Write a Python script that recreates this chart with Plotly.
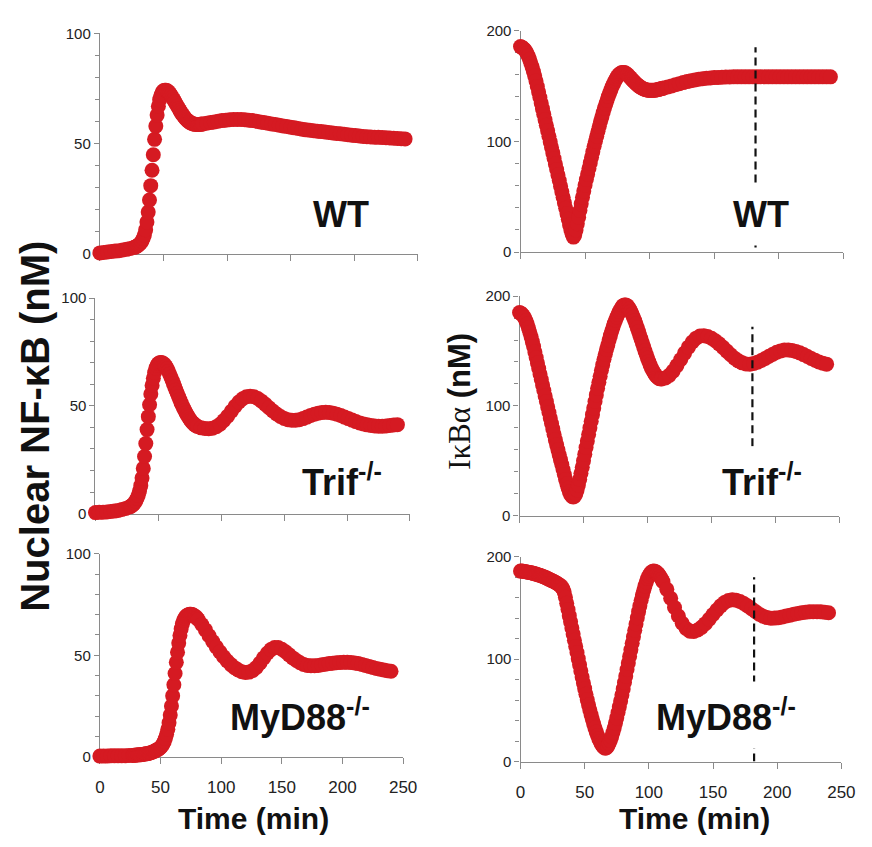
import plotly.graph_objects as go

W, H = 872, 847

# ---------------- data ----------------
# time grids (min)
t_left = list(range(0, 28, 3)) + list(range(28, 81)) + list(range(81, 241, 3))
t_right = list(range(0, 111)) + list(range(111, 241, 3))

# Nuclear NF-kB (nM)
nfkb_wt = [
    0.5, 0.7, 0.9, 1.1, 1.3, 1.5, 1.8, 2.1, 2.5, 3.0,
    3.2, 3.5, 3.9, 4.4, 5.0, 5.8, 7.0, 8.6, 11, 14.5,
    19, 24.5, 31, 38, 45, 52, 58, 63, 67, 70,
    72, 73.3, 74, 74.3, 74.3, 74, 73.5, 72.8, 72, 71,
    70, 69, 68, 67, 66, 65, 64, 63.2, 62.4, 61.7,
    61, 60.5, 60, 59.6, 59.3, 59.1, 58.9, 58.8, 58.7, 58.7,
    58.7, 58.8, 58.9,
    59, 59.3, 59.6, 59.9, 60.2, 60.5, 60.7, 60.9, 61, 61,
    61, 60.9, 60.7, 60.5, 60.2, 59.9, 59.6, 59.3, 59, 58.7,
    58.4, 58.1, 57.8, 57.5, 57.2, 56.9, 56.6, 56.3, 56.1, 55.9,
    55.7, 55.5, 55.3, 55.1, 54.9, 54.7, 54.5, 54.3, 54.1, 53.9,
    53.7, 53.5, 53.3, 53.2, 53.1, 53, 52.9, 52.8, 52.7, 52.6,
    52.5, 52.4, 52.3, 52.2,
]
nfkb_trif = [
    0.5, 0.6, 0.7, 0.8, 1.0, 1.2, 1.5, 1.9, 2.4, 3.1,
    3.4, 3.8, 4.3, 5.0, 5.9, 7.0, 8.5, 10.5, 13, 16.5,
    21, 26.5, 32.5, 39, 45, 50.5, 55.5, 59.5, 62.8, 65.5,
    67.5, 68.8, 69.6, 70, 70.1, 70, 69.6, 69, 68.2, 67.2,
    66, 64.7, 63.3, 61.8, 60.3, 58.8, 57.3, 55.8, 54.3, 52.9,
    51.5, 50.2, 49, 47.8, 46.7, 45.7, 44.7, 43.8, 43, 42.3,
    41.7, 41.2, 40.8,
    40.4, 39.8, 39.5, 39.4, 39.6, 40.3, 41.5, 43.2, 45.2, 47.5,
    49.8, 51.8, 53.3, 54.2, 54.5, 54.2, 53.4, 52.2, 50.7, 49.1,
    47.6, 46.2, 45.1, 44.2, 43.6, 43.3, 43.3, 43.6, 44.1, 44.8,
    45.5, 46.1, 46.6, 46.9, 47, 46.9, 46.6, 46.1, 45.5, 44.8,
    44.1, 43.4, 42.7, 42.1, 41.6, 41.2, 40.9, 40.7, 40.6, 40.6,
    40.7, 40.9, 41.1, 41.3,
]
nfkb_myd88 = [
    0.3, 0.3, 0.3, 0.4, 0.4, 0.4, 0.5, 0.5, 0.6, 0.6,
    0.7, 0.7, 0.8, 0.8, 0.9, 1.0, 1.0, 1.1, 1.2, 1.3,
    1.4, 1.5, 1.6, 1.8, 2.0, 2.2, 2.4, 2.7, 3.0, 3.4,
    3.6, 4.0, 4.6, 5.3, 6.2, 7.4, 9.0, 11, 13.5, 16.7,
    20.5, 25, 30, 35.5, 41, 46.5, 51.5, 56, 59.8, 63,
    65.5, 67.2, 68.4, 69.2, 69.7, 70, 70.2, 70.2, 70.1, 69.8,
    69.4, 68.9, 68.3,
    67.6, 65.2, 62.5, 59.6, 56.8, 54.1, 51.6, 49.3, 47.2, 45.4,
    43.9, 42.7, 41.9, 41.5, 41.7, 42.5, 44, 46.2, 48.7, 51,
    52.8, 53.8, 53.8, 53, 51.7, 50.2, 48.7, 47.4, 46.3, 45.5,
    45, 44.8, 44.8, 45, 45.3, 45.6, 45.9, 46.1, 46.3, 46.4,
    46.5, 46.5, 46.4, 46.2, 45.9, 45.5, 45, 44.5, 44, 43.5,
    43.1, 42.7, 42.4, 42.1,
]

# IkBa (nM)
ikba_wt = [
    185.5, 185, 184, 183, 181.5, 179.5, 177, 174, 170.5, 167,
    163, 159, 154.5, 149.5, 144.5, 139.5, 134.5, 129.5, 124.5, 119.5,
    114.5, 109.5, 104.5, 99.5, 94.5, 89.5, 84.5, 79.5, 74.5, 69.5,
    64.5, 59.5, 54.5, 49.5, 44.5, 39.5, 34.5, 29.5, 24.5, 20,
    16, 13.5, 15.5, 20, 25.5, 31.5, 37.5, 43.5, 49.5, 55,
    60.5, 65.5, 70.5, 75.5, 80.5, 85.5, 90.5, 95.5, 100, 104.5,
    109, 113.5, 118, 122, 126, 130, 133.5, 137, 140.5, 143.5,
    146.5, 149.5, 152, 154.5, 156.5, 158.5, 160, 161, 161.8, 162.2,
    162.2, 161.8, 161, 160, 158.8, 157.5, 156.2, 155, 153.8, 152.6,
    151.5, 150.5, 149.6, 148.8, 148.1, 147.5, 147, 146.6, 146.3, 146.1,
    146, 146, 146, 146.1, 146.2, 146.4, 146.6, 146.9, 147.2, 147.5, 147.8,
    148.1, 149, 150, 151, 152, 153, 153.9, 154.7, 155.4, 156,
    156.5, 156.9, 157.2, 157.5, 157.7, 157.9, 158, 158.1, 158.2, 158.2,
    158.2, 158.2, 158.2, 158.2, 158.2, 158.2, 158.2, 158.2, 158.2, 158.2,
    158.2, 158.2, 158.2, 158.2, 158.2, 158.2, 158.2, 158.2, 158.2, 158.2,
    158.2, 158.2, 158.2, 158.2,
]
ikba_trif = [
    185, 184.5, 183.5, 182, 180, 177.5, 174.5, 171, 167, 163,
    158.5, 154, 149, 144, 139, 134, 129, 124, 119, 114,
    109, 104, 99, 94, 89, 84, 79, 74, 69, 64.5,
    60, 55.5, 51, 46.5, 42, 37.5, 33, 29, 25, 21.5,
    19, 17.5, 17, 17.8, 20, 23.5, 28, 33, 38.5, 44,
    50, 56, 62, 68, 74, 80, 86, 92, 98, 104,
    110, 116, 121.5, 127, 132.5, 137.5, 142.5, 147, 151.5, 155.5,
    160, 164, 168, 171.5, 175, 178, 181, 183.5, 186, 188,
    190, 191.3, 192, 192, 191.3, 190, 188.2, 186, 183.5, 180.8,
    177.8, 174.6, 171.2, 167.7, 164.2, 160.8, 157.3, 153.8, 150.2, 146.8,
    143.5, 140.4, 137.5, 134.8, 132.4, 130.3, 128.5, 127, 125.8, 125, 124.6,
    124.5, 125.4, 127.8, 131.7, 136.7, 142.3, 148.1, 153.5, 158.2, 161.7,
    163.6, 163.9, 163.2, 161.6, 159.4, 156.5, 153.3, 149.9, 146.6, 143.5,
    141, 139.2, 138.2, 138, 138.6, 139.7, 141.3, 143.2, 145.2, 147.1,
    148.8, 150.1, 150.9, 151, 150.5, 149.6, 148.3, 146.7, 145, 143.2,
    141.5, 140, 138.8, 138,
]
ikba_myd88 = [
    186, 186, 185.8, 185.6, 185.4, 185.2, 185, 184.7, 184.4, 184.1,
    183.8, 183.5, 183.1, 182.7, 182.3, 181.9, 181.5, 181, 180.5, 180,
    179.4, 178.8, 178.2, 177.6, 177, 176.4, 175.8, 175.1, 174.4, 173.6,
    172.8, 171.8, 170.6, 168.8, 165.5, 160.5, 154.5, 148.5, 142.5, 136.5,
    130.5, 124.5, 118.5, 112.5, 106.5, 100.5, 94.5, 88.5, 82.5, 76.8,
    71.2, 65.7, 60.4, 55.3, 50.4, 45.7, 41.2, 36.9, 32.8, 29,
    25.5, 22.3, 19.5, 17.1, 15.2, 13.8, 13, 13.6, 15.2, 17.6,
    20.6, 24.2, 28.3, 32.8, 37.6, 42.7, 48, 53.5, 59.2, 65,
    71, 77.2, 83.5, 89.9, 96.3, 102.7, 109.1, 115.5, 121.9, 128.2,
    134.4, 140.5, 146.4, 152.1, 157.5, 162.6, 167.3, 171.6, 175.4, 178.7,
    181.4, 183.5, 185, 185.8, 186, 185.7, 184.9, 183.7, 182.1, 180.2, 178,
    175.7, 168.2, 159.5, 150.5, 142.1, 135.1, 130, 127.3, 127.1, 128.5,
    131.1, 134.7, 139, 143.6, 148.1, 152.1, 155.3, 157.3, 158, 157.6,
    156.3, 154.4, 152, 149.3, 146.5, 144, 142, 140.6, 140, 140.1,
    140.5, 141.2, 142.1, 143, 143.9, 144.7, 145.4, 145.9, 146.2, 146.4,
    146.4, 146.2, 145.8, 145.3,
]

genotypes = ["WT", "Trif<sup>-/-</sup>", "MyD88<sup>-/-</sup>"]
x_ticks = [0, 50, 100, 150, 200, 250]
left_ticks = [0, 50, 100]
right_ticks = [0, 100, 200]
dash_time = 182
dash_top = [185, 172, 180]
dash_bottom = [4, 4, 0]

# ---------------- layout helpers ----------------
def px_x(p):
    return p / W

def px_y(p):
    return 1 - p / H

RED = "#d51a22"
FONT = "Liberation Sans, Arial, sans-serif"
AXC = "#8a8a8a"

# panel geometry in pixels: (x0, x1, ytop, ybottom)
geo = [
    (97, 422, 25, 250),    # TL
    (527, 857, 22, 248),   # TR
    (92.5, 414, 295, 515), # ML
    (526, 853, 293, 517),  # MR
    (97, 407, 556, 763),   # BL
    (527, 855, 559, 768),  # BR
]

series = [
    (t_left, nfkb_wt), (t_right, ikba_wt),
    (t_left, nfkb_trif), (t_right, ikba_trif),
    (t_left, nfkb_myd88), (t_right, ikba_myd88),
]

fig = go.Figure()
layout = dict(
    width=W, height=H,
    margin=dict(l=0, r=0, t=0, b=0),
    paper_bgcolor="white", plot_bgcolor="white",
    showlegend=False,
)

for i, ((x0, x1, yt, yb), (tx, vy)) in enumerate(zip(geo, series)):
    n = i + 1
    xa = "xaxis" if n == 1 else f"xaxis{n}"
    ya = "yaxis" if n == 1 else f"yaxis{n}"
    xr = "x" if n == 1 else f"x{n}"
    yr = "y" if n == 1 else f"y{n}"
    left = (i % 2 == 0)
    bottom = (i >= 4)
    layout[xa] = dict(
        domain=[px_x(x0), px_x(x1)], anchor=yr, range=[0, 250],
        tickvals=x_ticks, showticklabels=bottom,
        ticks="outside", ticklen=6, tickcolor=AXC, tickwidth=1,
        showline=True, linecolor=AXC, linewidth=1.2,
        showgrid=False, zeroline=False, layer="below traces",
        tickfont=dict(family=FONT, size=17, color="#222"),
        ticklabelstandoff=9,
    )
    layout[ya] = dict(
        domain=[px_y(yb), px_y(yt)], anchor=xr,
        range=[0, 100] if left else [0, 200],
        tickvals=left_ticks if left else right_ticks,
        ticks="outside", ticklen=5, tickcolor=AXC, tickwidth=1,
        minor=dict(dtick=10 if left else 20, ticks="outside", ticklen=4,
                   tickcolor=AXC, showgrid=False),
        showline=True, linecolor=AXC, linewidth=1.2,
        showgrid=False, zeroline=False, layer="below traces",
        tickfont=dict(family=FONT, size=15, color="#222"),
    )
    fig.add_trace(go.Scatter(
        x=tx, y=vy, mode="markers", xaxis=xr, yaxis=yr,
        marker=dict(size=15, color=RED, line=dict(width=0)),
        cliponaxis=False, hoverinfo="skip",
    ))

shapes = []
for k, n in enumerate([2, 4, 6]):
    shapes.append(dict(
        type="line", xref=f"x{n}", yref=f"y{n}",
        x0=dash_time, x1=dash_time, y0=dash_bottom[k], y1=dash_top[k],
        line=dict(color="#111", width=2.2, dash="8px,5px"), layer="above",
    ))
layout["shapes"] = shapes

ann = []
# genotype labels (center px)
label_pos = [(343, 210), (773, 210), (344, 481), (774, 481), (302, 720), (737, 720)]
for i, (cx, cy) in enumerate(label_pos):
    right = (i % 2 == 1)
    ann.append(dict(
        text=genotypes[i // 2], xref="paper", yref="paper",
        x=px_x(cx), y=px_y(cy), xanchor="center", yanchor="middle",
        showarrow=False,
        font=dict(family=FONT, size=36, color="#111", weight="bold"),
        bgcolor="white" if right else "rgba(0,0,0,0)", borderpad=10,
    ))

# axis titles
ann.append(dict(
    text="Nuclear NF-κB (nM)", xref="paper", yref="paper",
    x=px_x(31), y=px_y(426), xanchor="center", yanchor="middle",
    textangle=-90, showarrow=False,
    font=dict(family=FONT, size=40, color="#111", weight="bold"),
))
ann.append(dict(
    text="<span style='font-family:Liberation Serif, Times New Roman, serif;font-weight:normal'>IκBα</span> (nM)",
    xref="paper", yref="paper",
    x=px_x(465), y=px_y(400), xanchor="center", yanchor="middle",
    textangle=-90, showarrow=False,
    font=dict(family=FONT, size=31, color="#111", weight="bold"),
))
for cx in (254, 705):
    ann.append(dict(
        text="Time (min)", xref="paper", yref="paper",
        x=px_x(cx), y=px_y(826), xanchor="center", yanchor="middle",
        showarrow=False,
        font=dict(family=FONT, size=30, color="#111", weight="bold"),
    ))
layout["annotations"] = ann

fig.update_layout(**layout)
fig.write_html("out.html")
